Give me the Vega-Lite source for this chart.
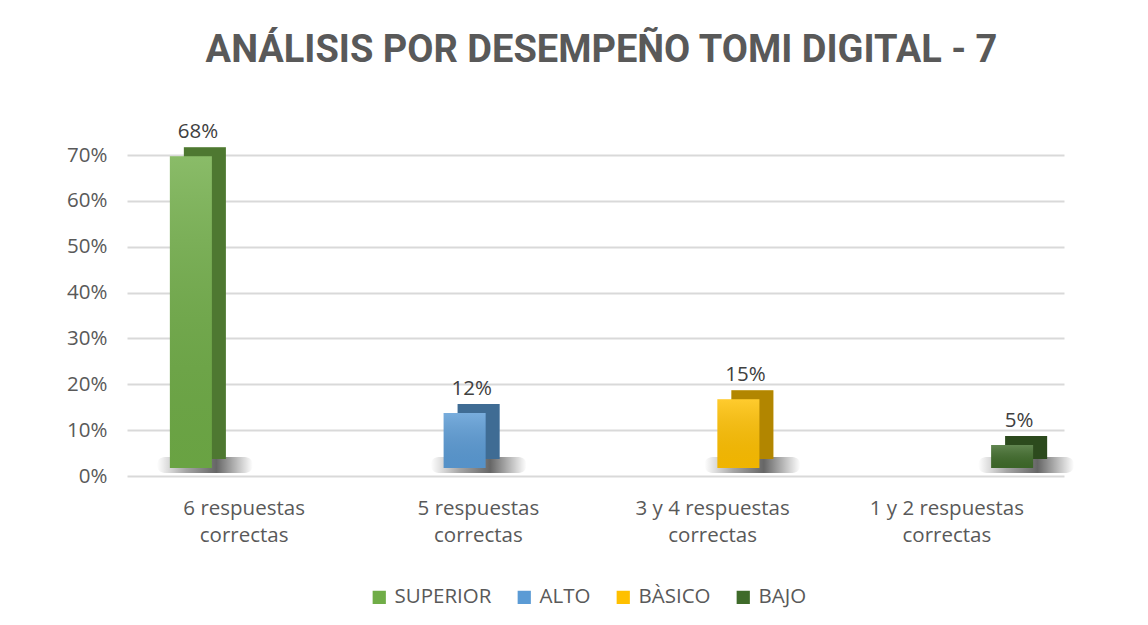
{
  "$schema": "https://vega.github.io/schema/vega-lite/v6.json",
  "width": 963,
  "height": 321,
  "autosize": {"type": "none"},
  "padding": {"left": 127, "top": 155, "right": 58, "bottom": 149},
  "background": "white",
  "title": {
    "text": "ANÁLISIS POR DESEMPEÑO TOMI DIGITAL - 7",
    "font": "Roboto",
    "fontSize": 38,
    "fontWeight": "bold",
    "color": "#595959",
    "offset": 52,
    "anchor": "middle",
    "dx": -7
  },
  "data": {
    "values": [
      {"cat": "6 respuestas correctas", "nivel": "SUPERIOR", "value": 0.68},
      {"cat": "5 respuestas correctas", "nivel": "ALTO", "value": 0.12},
      {"cat": "3 y 4 respuestas correctas", "nivel": "BÀSICO", "value": 0.15},
      {"cat": "1 y 2 respuestas correctas", "nivel": "BAJO", "value": 0.05}
    ]
  },
  "config": {
    "view": {"stroke": null},
    "font": "Open Sans"
  },
  "layer": [
    {
      "mark": {"type": "tick", "opacity": 0},
      "encoding": {
        "x": {
          "field": "cat", "type": "nominal", "sort": null,
          "scale": {"range": [0, 937], "paddingInner": 0, "paddingOuter": 0},
          "axis": {
            "title": null, "domain": false, "ticks": false, "labelAngle": 0,
            "labelPadding": 22, "labelFontSize": 20.5, "labelColor": "#595959",
            "labelLineHeight": 27,
            "labelExpr": "split(replace(datum.label, ' correctas', '|correctas'), '|')"
          }
        },
        "y": {
          "field": "value", "type": "quantitative",
          "scale": {"domain": [0, 0.7], "nice": false},
          "axis": {
            "title": null, "format": ".0%", "values": [0, 0.1, 0.2, 0.3, 0.4, 0.5, 0.6, 0.7],
            "domain": false, "ticks": false, "labelPadding": 20, "labelFontSize": 20.5,
            "labelColor": "#595959", "gridColor": "#d9d9d9", "gridWidth": 2
          }
        }
      }
    },
    {
      "mark": {
        "type": "bar", "size": 96, "xOffset": 14, "x2Offset": 14, "yOffset": -19, "y2Offset": -3, "cornerRadius": 8,
        "color": {"gradient": "linear", "x1": 0, "y1": 0, "x2": 1, "y2": 0,
          "stops": [{"offset": 0, "color": "rgba(0,0,0,0)"}, {"offset": 0.3, "color": "rgba(0,0,0,0.35)"}, {"offset": 0.62, "color": "rgba(0,0,0,0.6)"}, {"offset": 1, "color": "rgba(0,0,0,0)"}]}
      },
      "encoding": {
        "x": {"field": "cat", "type": "nominal", "sort": null, "scale": {"range": [-73, 1022], "paddingInner": 0, "paddingOuter": 0}, "axis": null},
        "y": {"datum": 0, "type": "quantitative"},
        "y2": {"datum": 0}
      }
    },
    {
      "mark": {"type": "bar", "size": 42, "xOffset": 14, "x2Offset": 14, "yOffset": -17, "y2Offset": -17},
      "encoding": {
        "x": {"field": "cat", "type": "nominal", "sort": null, "scale": {"range": [-73, 1022], "paddingInner": 0, "paddingOuter": 0}, "axis": null},
        "y": {"field": "value", "type": "quantitative"},
        "color": {
          "field": "nivel", "type": "nominal",
          "scale": {"domain": ["SUPERIOR", "ALTO", "BÀSICO", "BAJO"], "range": ["#70AD47", "#5B9BD5", "#FFC000", "#3F6B2A"]},
          "legend": {
            "orient": "none", "legendX": 242, "legendY": 432, "direction": "horizontal",
            "title": null, "symbolType": "square", "symbolSize": 175, "symbolStrokeWidth": 0,
            "labelFontSize": 20.5, "labelColor": "#595959", "columnPadding": 22, "labelOffset": 5
          }
        }
      }
    },
    {
      "mark": {"type": "bar", "size": 42, "xOffset": 14, "x2Offset": 14, "yOffset": -17, "y2Offset": -17, "color": "black", "opacity": 0.3},
      "encoding": {
        "x": {"field": "cat", "type": "nominal", "sort": null, "scale": {"range": [-73, 1022], "paddingInner": 0, "paddingOuter": 0}, "axis": null},
        "y": {"field": "value", "type": "quantitative"}
      }
    },
    {
      "mark": {"type": "bar", "size": 42, "yOffset": -8, "y2Offset": -8},
      "encoding": {
        "x": {"field": "cat", "type": "nominal", "sort": null, "scale": {"range": [-73, 1022], "paddingInner": 0, "paddingOuter": 0}, "axis": null},
        "y": {"field": "value", "type": "quantitative"},
        "color": {
          "field": "nivel", "type": "nominal",
          "scale": {"domain": ["SUPERIOR", "ALTO", "BÀSICO", "BAJO"], "range": ["#70AD47", "#5B9BD5", "#FFC000", "#3F6B2A"]},
          "legend": {
            "orient": "none", "legendX": 242, "legendY": 432, "direction": "horizontal",
            "title": null, "symbolType": "square", "symbolSize": 175, "symbolStrokeWidth": 0,
            "labelFontSize": 20.5, "labelColor": "#595959", "columnPadding": 22, "labelOffset": 5
          }
        }
      }
    },
    {
      "mark": {
        "type": "bar", "size": 42, "yOffset": -8, "y2Offset": -8,
        "color": {"gradient": "linear", "x1": 0, "y1": 0, "x2": 0, "y2": 1, "stops": [{"offset": 0, "color": "rgba(255,255,255,0.18)"}, {"offset": 1, "color": "rgba(0,0,0,0.06)"}]}
      },
      "encoding": {
        "x": {"field": "cat", "type": "nominal", "sort": null, "scale": {"range": [-73, 1022], "paddingInner": 0, "paddingOuter": 0}, "axis": null},
        "y": {"field": "value", "type": "quantitative"}
      }
    },
    {
      "mark": {"type": "text", "baseline": "alphabetic", "dx": 7, "dy": -26, "fontSize": 20.5, "color": "#404040"},
      "encoding": {
        "x": {"field": "cat", "type": "nominal", "sort": null, "scale": {"range": [-73, 1022], "paddingInner": 0, "paddingOuter": 0}, "axis": null},
        "y": {"field": "value", "type": "quantitative"},
        "text": {"field": "value", "type": "quantitative", "format": ".0%"}
      }
    }
  ],
  "resolve": {"scale": {"x": "independent"}}
}
